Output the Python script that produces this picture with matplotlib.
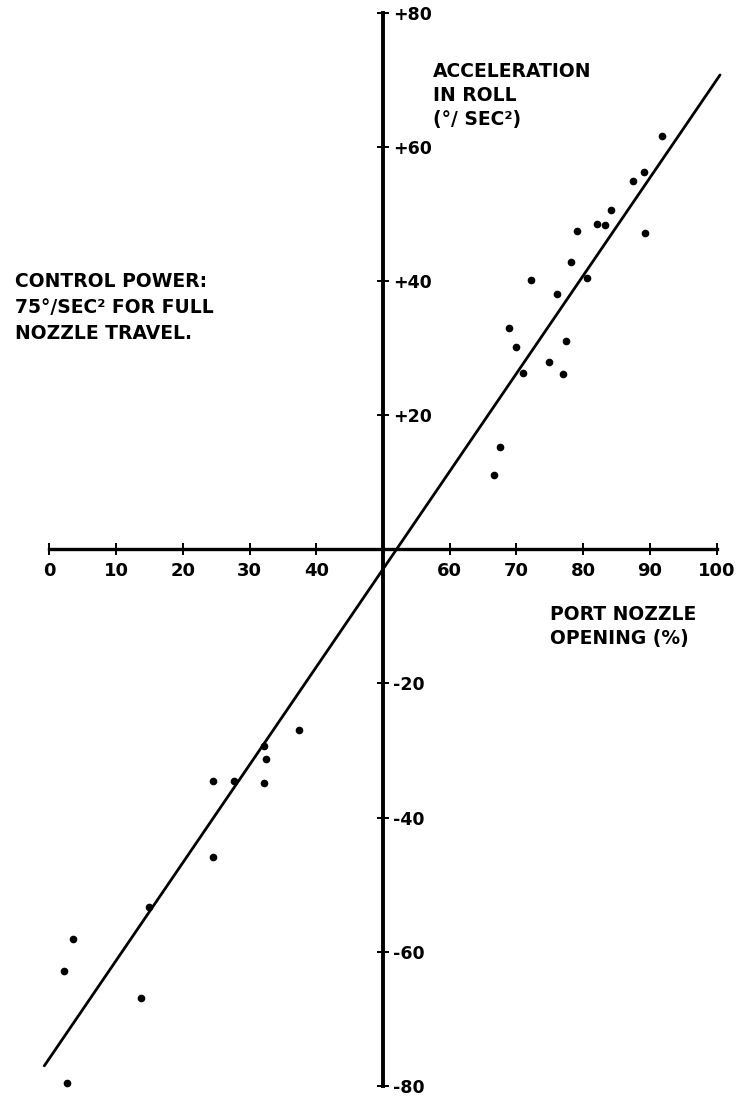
"""
Roll control power: port nozzle opening vs. acceleration in roll.
"""

import matplotlib
matplotlib.use("Agg")
import matplotlib.pyplot as plt

# port nozzle opening (%) and roll acceleration (deg/sec^2)
NOZZLE_PCT = [
    91.8, 89.1, 87.4, 84.2, 82.1, 83.3, 79.1, 89.2,
    78.1, 80.5, 72.1, 76.0, 68.9, 70.0, 77.4, 74.8, 71.0, 77.0, 67.6, 66.6,
    37.4, 32.1, 32.4, 24.5, 27.6, 32.2, 24.5, 14.9, 3.6, 2.2, 13.8, 2.7,
]
ROLL_ACCEL = [
    61.6, 56.2, 54.9, 50.6, 48.5, 48.3, 47.4, 47.2,
    42.8, 40.5, 40.2, 38.1, 33.0, 30.2, 31.1, 27.9, 26.2, 26.1, 15.2, 11.1,
    -26.9, -29.4, -31.3, -34.6, -34.6, -34.8, -45.9, -53.4, -58.1, -62.8, -66.9, -79.6,
]

# faired line
FIT_X = [-0.75, 100.5]
FIT_Y = [-77.0, 70.7]

X_TICKS = [0, 10, 20, 30, 40, 60, 70, 80, 90, 100]
X_TICK_LABELS = ["0", "10", "20", "30", "40", "60", "70", "80", "90", "100"]
Y_TICKS = [-80, -60, -40, -20, 20, 40, 60, 80]
Y_TICK_LABELS = ["-80", "-60", "-40", "-20", "+20", "+40", "+60", "+80"]

plt.rcParams["font.family"] = ["DejaVu Sans"]

fig = plt.figure(figsize=(7.4, 10.96), dpi=100)
ax = fig.add_axes([0, 0, 1, 1])
ax.set_xlim(-7.39, 103.49)
ax.set_ylim(-81.5, 81.87)

ax.plot(FIT_X, FIT_Y, color="k", linewidth=2.0, solid_capstyle="round")
ax.plot(NOZZLE_PCT, ROLL_ACCEL, "o", color="k", markersize=4.5)

# axes cross at 50 % opening / zero acceleration
ax.spines["top"].set_visible(False)
ax.spines["left"].set_visible(False)
ax.spines["right"].set_position(("data", 50))
ax.spines["right"].set_bounds(-80, 80)
ax.spines["right"].set_linewidth(2.8)
ax.spines["bottom"].set_position(("data", 0))
ax.spines["bottom"].set_bounds(0, 100)
ax.spines["bottom"].set_linewidth(2.4)
ax.yaxis.set_ticks_position("right")
ax.xaxis.set_ticks_position("bottom")

ax.set_xticks(X_TICKS)
ax.set_xticklabels(X_TICK_LABELS, fontsize=13, fontweight="bold")
ax.set_yticks(Y_TICKS)
ax.set_yticklabels(Y_TICK_LABELS, fontsize=12.5, fontweight="bold")
ax.tick_params(axis="x", direction="inout", length=9, width=1.4, pad=5)
ax.tick_params(axis="y", direction="inout", length=9, width=1.4, pad=3)

ax.text(57.5, 72.7, "ACCELERATION\nIN ROLL\n(°/ SEC²)", fontsize=13.5,
        fontweight="bold", va="top", ha="left", linespacing=1.35)
ax.text(-5.1, 41.3, "CONTROL POWER:\n75°/SEC² FOR FULL\nNOZZLE TRAVEL.",
        fontsize=13.5, fontweight="bold", va="top", ha="left", linespacing=1.45)
ax.text(75.0, -8.3, "PORT NOZZLE\nOPENING (%)", fontsize=13.5,
        fontweight="bold", va="top", ha="left", linespacing=1.35)

fig.savefig("out.png", dpi=100, facecolor="white")
